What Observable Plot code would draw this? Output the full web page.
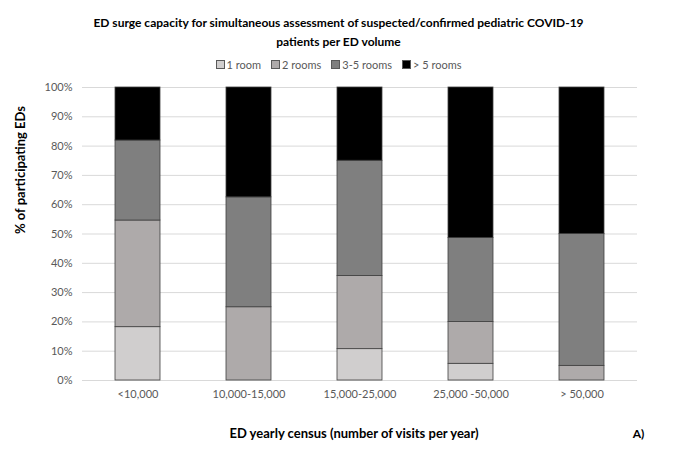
<!DOCTYPE html>
<html>
<head>
<meta charset="utf-8">
<script src="https://cdn.jsdelivr.net/npm/d3@7"></script>
<script src="https://cdn.jsdelivr.net/npm/@observablehq/plot@0.6"></script>
<style>
  html, body { margin: 0; padding: 0; background: #fff; }
  #wrap { position: relative; width: 677px; height: 474px; font-family: Lato, "Open Sans", sans-serif; }
  #title { position: absolute; left: 0; top: 13px; width: 677px; text-align: center; font-weight: bold; font-size: 12px; line-height: 19px; color: #000; }
  #legend { position: absolute; left: 0; top: 58px; width: 677px; text-align: center; font-size: 11px; color: #595959; }
  #legend span.item { display: inline-block; margin: 0 5px; }
  #legend span.sw { display: inline-block; width: 7px; height: 7px; margin-right: 2px; border: 1px solid #595959; vertical-align: 0px; }
  #chart { position: absolute; left: 0; top: 0; }
</style>
</head>
<body>
<div id="wrap">
  <div id="chart"></div>
  <div id="title">ED surge capacity for simultaneous assessment of suspected/confirmed pediatric COVID-19<br>patients per ED volume</div>
  <div id="legend"></div>
</div>
<script>
const categories = ["<10,000", "10,000-15,000", "15,000-25,000", "25,000 -50,000", "> 50,000"];
const series = ["1 room", "2 rooms", "3-5 rooms", "> 5 rooms"];
const colors = ["#d0cece", "#aeaaaa", "#7f7f7f", "#000000"];
const oneRoom   = [18.2, 0,    10.7, 5.7,  0];
const twoRooms  = [36.4, 25.0, 25.0, 14.3, 5.0];
const threeFive = [27.3, 37.5, 39.3, 28.6, 45.0];
const moreFive  = [18.1, 37.5, 25.0, 51.4, 50.0];
const yTicks = [0, 10, 20, 30, 40, 50, 60, 70, 80, 90, 100];

const seriesValues = [oneRoom, twoRooms, threeFive, moreFive];
const data = [];
series.forEach((s, si) => {
  categories.forEach((c, ci) => {
    data.push({category: c, series: s, value: seriesValues[si][ci]});
  });
});

const legend = document.getElementById("legend");
series.forEach((s, i) => {
  const item = document.createElement("span");
  item.className = "item";
  const sw = document.createElement("span");
  sw.className = "sw";
  sw.style.background = colors[i];
  item.appendChild(sw);
  item.appendChild(document.createTextNode(s));
  legend.appendChild(item);
});

const chart = Plot.plot({
  width: 677,
  height: 474,
  marginTop: 87,
  marginBottom: 94,
  marginLeft: 82,
  marginRight: 40,
  style: {fontFamily: "Lato, 'Open Sans', sans-serif", fontSize: "11px", color: "#595959", background: "#fff"},
  x: {domain: categories, paddingInner: 0.595, paddingOuter: 0.2975, label: null},
  y: {domain: [0, 100], label: null},
  color: {domain: series, range: colors},
  marks: [
    Plot.ruleY(yTicks, {stroke: "#d9d9d9", strokeWidth: 1}),
    Plot.axisY({ticks: yTicks, tickSize: 0, tickPadding: 10, tickFormat: d => d + "%", label: null, fill: "#595959"}),
    Plot.axisX({tickSize: 0, tickPadding: 10, label: null, fill: "#595959"}),
    Plot.barY(data, Plot.stackY({x: "category", y: "value", fill: "series", order: series, stroke: "#404040", strokeWidth: 0.8})),
    Plot.text(["% of participating EDs"], {frameAnchor: "left", rotate: -90, dx: -62, fontWeight: "bold", fontSize: 13, fill: "#000"}),
    Plot.text(["ED yearly census (number of visits per year)"], {frameAnchor: "bottom", dx: -6, dy: 57, fontWeight: "bold", fontSize: 13, fill: "#000"}),
    Plot.text(["A)"], {frameAnchor: "bottom-right", textAnchor: "middle", dx: 1, dy: 57, fontWeight: "bold", fontSize: 12, fill: "#000"})
  ]
});
document.getElementById("chart").appendChild(chart);
</script>
</body>
</html>
